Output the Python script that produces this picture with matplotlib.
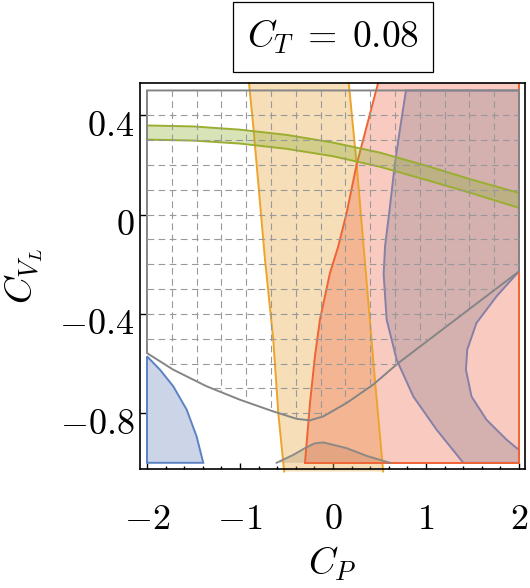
import numpy as np
import matplotlib
matplotlib.use('Agg')
import matplotlib.pyplot as plt
import matplotlib.transforms as mtransforms
from matplotlib.patches import Polygon, Rectangle

plt.rcParams['mathtext.fontset'] = 'cm'
plt.rcParams['font.family'] = 'serif'

# Boundaries (C_P, C_VL)
gray_x = [-2.0, -1.717, -1.358, -1.0, -0.642, -0.39, -0.247, -0.104, 0.147, 0.433, 0.703, 1.223, 2.0]
gray_y = [-0.558, -0.625, -0.692, -0.746, -0.793, -0.823, -0.829, -0.813, -0.759, -0.685, -0.598, -0.450, -0.229]

bump_x = [-0.606, -0.427, -0.301, -0.2, -0.104, 0.147, 0.362, 0.613]
bump_y = [-1.0, -0.968, -0.941, -0.922, -0.918, -0.941, -0.972, -1.0]

blue_x = [-2.0, -1.86, -1.717, -1.573, -1.466, -1.395, -2.0]
blue_y = [-0.571, -0.625, -0.692, -0.786, -0.894, -1.0, -1.0]

green_x = [-2.0, -1.5, -1.0, -0.5, 0.0, 0.5, 1.0, 1.5, 2.0]
green_top = [0.359, 0.355, 0.342, 0.321, 0.29, 0.25, 0.197, 0.14, 0.087]
green_bot = [0.302, 0.298, 0.286, 0.265, 0.235, 0.193, 0.14, 0.085, 0.027]

orange_left_x = [-0.903, -0.857, -0.731, -0.642, -0.588, -0.525]
orange_left_y = [0.53, 0.356, -0.181, -0.504, -0.80, -1.035]
orange_right_x = [0.17, 0.255, 0.355, 0.45, 0.54]
orange_right_y = [0.53, 0.2, -0.24, -0.66, -1.035]

red_x = [-0.301, -0.247, -0.194, -0.14, -0.032, 0.057, 0.147, 0.255, 0.485]
red_y = [-1.0, -0.759, -0.571, -0.423, -0.235, -0.128, 0.007, 0.202, 0.53]

purple_outer_x = [0.785, 0.72, 0.667, 0.613, 0.56, 0.545, 0.577, 0.685, 0.864, 1.115, 1.401]
purple_outer_y = [0.5, 0.343, 0.208, 0.033, -0.128, -0.24, -0.423, -0.585, -0.733, -0.867, -1.0]
purple_inner_x = [2.0, 1.867, 1.652, 1.49, 1.43, 1.444, 1.543, 1.76, 2.0]
purple_inner_y = [-0.948, -0.907, -0.827, -0.733, -0.625, -0.544, -0.437, -0.329, -0.229]

xticks = [-2, -1, 0, 1, 2]
xtick_labels = ['$-2$', '$-1$', '$0$', '$1$', '$2$']
yticks = [-0.8, -0.4, 0, 0.4]
ytick_labels = ['$-0.8$', '$-0.4$', '$0$', '$0.4$']

fig = plt.figure(figsize=(5.3, 5.88), dpi=100)
ax = fig.add_axes([140/530, 1 - 469/588, 385/530, 386/588])
ax.set_xlim(-2.075, 2.065)
ax.set_ylim(-1.025, 0.53)

lw = 1.4
a = 0.35

# gray "allowed" region: box above the gray curve (no fill, dashed mesh)
gray_poly = list(zip(gray_x, gray_y)) + [(2.0, 0.5), (-2.0, 0.5)]
gray_patch = Polygon(gray_poly, closed=True, facecolor='none',
                     edgecolor='#858585', lw=lw, zorder=6)
ax.add_patch(gray_patch)

# small gray bump at the bottom
ax.add_patch(Polygon(list(zip(bump_x, bump_y)), closed=True,
                     facecolor='#8a8a8a', alpha=0.3, edgecolor='none', zorder=2))
ax.plot(bump_x, bump_y, color='#858585', lw=lw, zorder=6, alpha=0.9)

# blue
ax.add_patch(Polygon(list(zip(blue_x, blue_y)), closed=True,
                     facecolor=(106/255, 135/255, 189/255, a),
                     edgecolor='#5b82c2', lw=lw, zorder=3))

# orange band
orange_poly = list(zip(orange_left_x, orange_left_y)) + \
    list(zip(orange_right_x[::-1], orange_right_y[::-1]))
ax.add_patch(Polygon(orange_poly, closed=True,
                     facecolor=(232/255, 161/255, 52/255, a),
                     edgecolor='none', zorder=3, clip_on=False))
ax.plot(orange_left_x, orange_left_y, color='#eea42a', lw=lw, zorder=5, clip_on=False)
ax.plot(orange_right_x, orange_right_y, color='#eea42a', lw=lw, zorder=5, clip_on=False)

# red
red_poly = list(zip(red_x, red_y)) + [(2.0, 0.53), (2.0, -1.0)]
ax.add_patch(Polygon(red_poly, closed=True,
                     facecolor=(238/255, 106/255, 75/255, a),
                     edgecolor='none', zorder=3))
ax.plot(red_x, red_y, color='#ef6434', lw=lw, zorder=5)
ax.plot([red_x[0], 2.0, 2.0], [-1.0, -1.0, 0.53], color='#ef6434', lw=lw, zorder=5)

# purple
purple_poly = list(zip(purple_outer_x, purple_outer_y)) + [(2.0, -1.0)] + \
    list(zip(purple_inner_x, purple_inner_y)) + [(2.0, 0.5)]
ax.add_patch(Polygon(purple_poly, closed=True,
                     facecolor=(143/255, 126/255, 146/255, a),
                     edgecolor='#8680a8', lw=lw, zorder=4))

# green band
green_poly = list(zip(green_x, green_top)) + list(zip(green_x[::-1], green_bot[::-1]))
ax.add_patch(Polygon(green_poly, closed=True,
                     facecolor=(144/255, 178/255, 52/255, a),
                     edgecolor='#9aae30', lw=lw, zorder=5))

# dashed mesh inside the gray region
mesh_x = np.linspace(-2, 2, 16)[1:-1]
mesh_y = np.linspace(-1, 0.5, 16)[1:-1]
for xv in mesh_x:
    ln, = ax.plot([xv, xv], [-1.0, 0.5], color='#999999', lw=0.8,
                  dashes=(6, 4), zorder=7)
    ln.set_clip_path(gray_patch)
for yv in mesh_y:
    ln, = ax.plot([-2.0, 2.0], [yv, yv], color='#999999', lw=0.8,
                  dashes=(6, 4), zorder=7)
    ln.set_clip_path(gray_patch)

# axes styling
ax.set_xticks(xticks)
ax.set_xticklabels(xtick_labels)
ax.set_xticks(np.arange(-2, 2.01, 0.2), minor=True)
ax.set_yticks(yticks)
ax.set_yticklabels(ytick_labels)
ax.tick_params(axis='both', which='both', direction='in', top=False, right=False,
               labelsize=26, width=1.0)
ax.tick_params(axis='both', which='major', length=4)
ax.tick_params(axis='both', which='minor', length=2.5)
ax.tick_params(axis='x', which='major', pad=24)
ax.tick_params(axis='y', which='major', pad=4)
shift = mtransforms.ScaledTranslation(0, -7/100, fig.dpi_scale_trans)
for lab in ax.get_yticklabels():
    lab.set_transform(lab.get_transform() + shift)
for sp in ax.spines.values():
    sp.set_linewidth(1.2)
    sp.set_zorder(10)

ax.set_xlabel('$C_P$', fontsize=27, labelpad=6)
ax.set_ylabel('$C_{V_L}$', fontsize=27, labelpad=10)

# boxed title
fig.patches.append(Rectangle((233/530, 1 - 72/588), 200/530, 70/588,
                             transform=fig.transFigure, fill=False,
                             edgecolor='black', lw=0.9))
fig.text(333/530, 1 - 37/588, r'$C_T\;=\;0.08$', fontsize=27,
         ha='center', va='center')

fig.savefig('out.png', dpi=100)
